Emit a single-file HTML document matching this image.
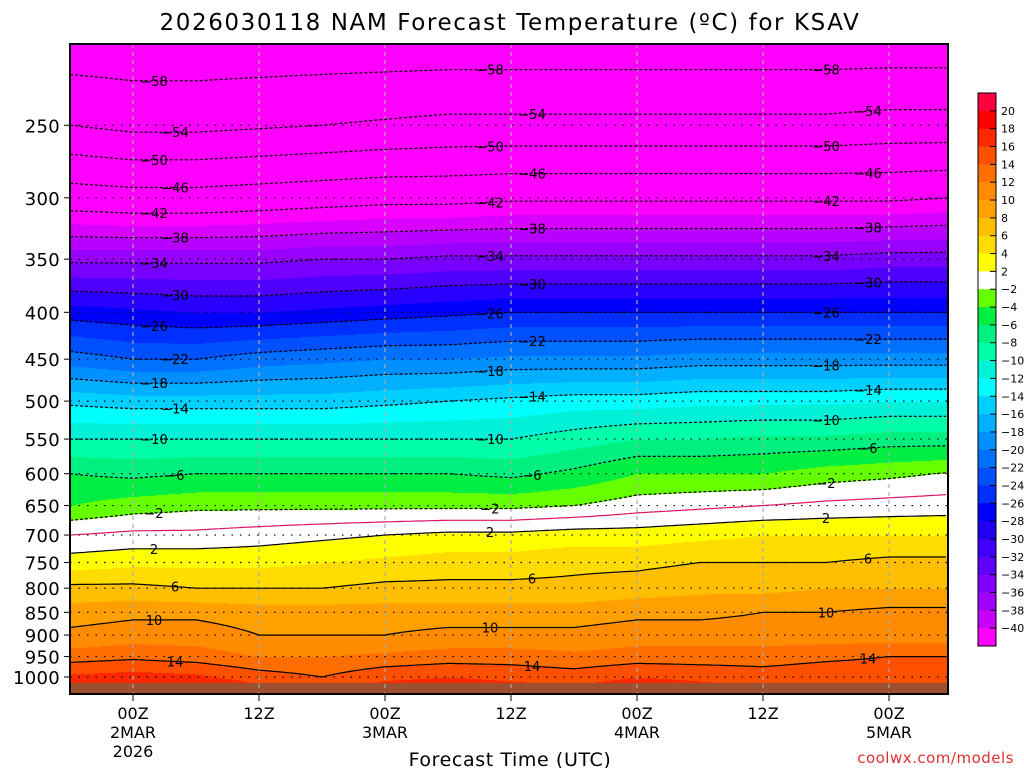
<!DOCTYPE html>
<html><head><meta charset="utf-8">
<style>
body{margin:0;background:#fff;width:1024px;height:768px;overflow:hidden;font-family:"DejaVu Sans","Liberation Sans",sans-serif}
#wrap{position:relative;width:1024px;height:768px}
canvas{position:absolute;left:70px;top:44px}
svg{position:absolute;left:0;top:0}
</style></head><body>
<div id="wrap">
<canvas id="cv" width="878" height="650"></canvas>
<svg id="sv" width="1024" height="768">
<text x="510" y="30" font-size="23" text-anchor="middle" fill="#000" letter-spacing="1.6">2026030118 NAM Forecast Temperature (ºC) for KSAV</text>
<text x="510" y="766" font-size="19" text-anchor="middle" fill="#000" letter-spacing="0.6">Forecast Time (UTC)</text>
<text x="1014" y="763" font-size="15" text-anchor="end" fill="#e03030" letter-spacing="0.5">coolwx.com/models</text>
</svg>
</div>
<script>
const hours=[0,6,12,18,24,30,36,42,48,54,60,66,72,78,84];
const levels=[1000,950,900,850,800,750,700,650,600,550,500,450,400,350,300,250,200];
const t1000=[16.5,17,16.5,15,14,15.5,16,15.5,15,16,15.5,15,15.5,15.5,15];
const t950=[13,13.5,13,12,12,12.5,13,13,12.5,13,13,13,13.5,14,14];
const t900=[10.5,11,11,10,10,10,10.5,10.5,10.5,11,11,11,11,11,11];
const t850=[9,9.5,9.5,9,9,9,9,9,9,9.5,9.5,10,10,10.5,10.5];
const t800=[6.5,6.5,6,6,6,6.5,6.5,6.5,6.5,7,7.5,7.5,8,8,8];
const t750=[3,3.5,3.5,3.5,4,4.5,5,5,5.5,5.5,6,6,6,6.5,6.5];
const t700=[0,0.5,0.5,1,1.5,2,2.5,2.5,3,3,3.5,4,4,4,4];
const t650=[-4,-3,-2.5,-2.5,-2.5,-2.5,-2.5,-2.5,-2,-1,-0.5,0,0.5,0.8,1];
const t600=[-6,-6.5,-6,-6,-6,-6,-6,-6.5,-5.5,-4,-4,-4,-3,-2.5,-1.8];
const t550=[-10,-10,-10,-10,-10,-10,-10,-10,-9,-8,-8,-7.5,-7.5,-7,-7];
const t500=[-14.5,-15,-15,-15,-15,-14.5,-14,-13.5,-13,-13,-12.5,-12.5,-12.5,-12,-12];
const t450=[-21,-22,-22,-21,-20.5,-20,-20,-19.5,-19.5,-19.5,-19,-19,-19,-19,-19];
const t400=[-27,-27.5,-28,-28,-27.5,-27,-26.5,-26,-26,-26,-26,-26,-26,-26,-26];
const t350=[-34.5,-34.5,-34.5,-34.5,-34,-34,-33.5,-33.5,-33.5,-33.5,-33.5,-33.5,-33.5,-33,-33];
const t300=[-44,-44.5,-44.5,-44,-43.5,-43,-43,-42.5,-42.5,-42.5,-42.5,-42.5,-42.5,-42.5,-42];
const t250=[-54,-55,-55,-54.5,-54,-53.5,-53,-53,-53,-53,-53,-53,-53,-52.5,-52.5];
const t200=[-61,-61,-61,-61,-61,-61,-61,-61,-61,-61,-61,-61,-61,-61,-61];
const temps=[t1000,t950,t900,t850,t800,t750,t700,t650,t600,t550,t500,t450,t400,t350,t300,t250,t200];
const contourValues=[-58,-54,-50,-46,-42,-38,-34,-30,-26,-22,-18,-14,-10,-6,-2,0,2,6,10,14];
const yTicks=[250,300,350,400,450,500,550,600,650,700,750,800,850,900,950,1000];
const xTickHours=[6,18,30,42,54,66,78];
const xTickLabels=[["00Z","2MAR","2026"],["12Z"],["00Z","3MAR"],["12Z"],["00Z","4MAR"],["12Z"],["00Z","5MAR"]];
const cbLabels=[20,18,16,14,12,10,8,6,4,2,-2,-4,-6,-8,-10,-12,-14,-16,-18,-20,-22,-24,-26,-28,-30,-32,-34,-36,-38,-40];
const colors=["#ff0040","#ff0000","#ff2800","#ff5000","#ff6e00","#ff8c00","#ffa000","#ffbe00","#ffdc00","#ffff00","#ffffff",
"#66ff00","#00ee44","#00f080","#00ffa8","#00f0d8","#00ffff","#00d0ff","#00b0ff","#0090ff","#0070ff","#0050ff","#0030ff","#0000ff","#2000f0","#4000ff","#6000ff","#8000ff","#a000ff","#c800ff","#ff00ff"];
const fieldColors=colors.slice(0,23).concat(["#0000ff","#2800ff","#5000ff","#7800ff","#9800ff","#b800ff","#d800ff","#f000ff","#ff00ff"]);

const X0=70,X1=948,Y0=44,Y1=694;
const xs=h=>X0+h*10.5;
const ys=p=>677-398*Math.log(1000/p);
const pOfY=y=>1000/Math.exp((677-y)/398);
function colIdx(T){
  if(T>=20)return 0;
  if(T>=2)return 9-Math.floor((T-2)/2);
  if(T>=-2)return 10;
  if(T<-40)return 31;
  return 11+Math.floor((-2-T)/2);
}
function tAtHour(h){
  let i=Math.min(hours.length-2,Math.max(0,Math.floor(h/6)));let f=(h-hours[i])/6;
  return temps.map(a=>a[i]*(1-f)+a[i+1]*f);
}
function tAt(prof,p){
  const lp=Math.log(p);
  for(let k=0;k<levels.length-1;k++){
    const a=Math.log(levels[k]),b=Math.log(levels[k+1]);
    if(lp<=a&&lp>=b)return prof[k]+(prof[k+1]-prof[k])*(lp-a)/(b-a);
  }
  if(lp>Math.log(levels[0]))return prof[0]+(prof[0]-prof[1])*(lp-Math.log(levels[0]))/(Math.log(levels[0])-Math.log(levels[1]));
  return prof[prof.length-1];
}
const ctx=document.getElementById('cv').getContext('2d');
for(let x=X0;x<X1;x+=2){
  const prof=tAtHour((x-X0)/10.5);
  for(let y=Y0;y<Y1;y++){
    if(y>=683){ctx.fillStyle="#9c5030";}
    else ctx.fillStyle=fieldColors[colIdx(tAt(prof,pOfY(y)))];
    ctx.fillRect(x-X0,y-Y0,2,1);
  }
}
const NS="http://www.w3.org/2000/svg";
const sv=document.getElementById('sv');
function mk(tag,attrs){const e=document.createElementNS(NS,tag);for(const k in attrs)e.setAttribute(k,attrs[k]);sv.appendChild(e);return e;}
yTicks.forEach(p=>{
  const l=mk('line',{x1:X0,x2:X1,y1:ys(p),y2:ys(p),stroke:'#000','stroke-width':1.2,'stroke-dasharray':'1.5 7'});
  
  
  const t=mk('text',{x:60,y:ys(p)+7,'font-size':18,'text-anchor':'end','letter-spacing':'0.3'});t.textContent=p;
  
  
  mk('line',{x1:X0-6,x2:X0,y1:ys(p),y2:ys(p),stroke:'#000'});
});
xTickHours.forEach((h,i)=>{
  const x=xs(h);
  const l=mk('line',{x1:x,x2:x,y1:Y0,y2:Y1,stroke:'#aaa','stroke-width':1.2,'stroke-dasharray':'4 4'});
  
  
  mk('line',{x1:x,x2:x,y1:Y1,y2:Y1+7,stroke:'#000'});
  xTickLabels[i].forEach((s,j)=>{
    const t=mk('text',{x:x,y:719+j*19,'font-size':16,'text-anchor':'middle'});t.textContent=s;
    
    
  });
});
const labelHours=[[8,40,72],[10,44,76]];
contourValues.forEach((v,ci)=>{
  let pts=[];
  for(let x=X0;x<=X1;x+=3){
    const prof=tAtHour((x-X0)/10.5);
    let yy=null;
    for(let k=levels.length-1;k>0;k--){
      const a=prof[k],b=prof[k-1];
      if((a-v)*(b-v)<=0&&a!==b){
        const f=(v-a)/(b-a);
        const lp=Math.log(levels[k])+f*(Math.log(levels[k-1])-Math.log(levels[k]));
        yy=ys(Math.exp(lp));break;
      }
    }
    if(yy!==null&&yy<683&&yy>Y0)pts.push([x,yy]);
  }
  if(pts.length<2)return;
  const attrs={points:pts.map(p=>p[0]+','+p[1].toFixed(1)).join(' '),fill:'none',stroke:v===0?'#e0106a':'#000','stroke-width':1.2};
  if(v<0)attrs['stroke-dasharray']='3 2';
  const pl=mk('polyline',attrs);
  
  
  if(v===0)return;
  labelHours[ci%2].forEach(h=>{
    const x=xs(h);let best=pts.reduce((a,b)=>Math.abs(b[0]-x)<Math.abs(a[0]-x)?b:a);
    if(Math.abs(best[0]-x)>5)return;
    const t=mk('text',{x:best[0],y:best[1]+5,'font-size':13,'text-anchor':'middle'});
    t.textContent=v<0?'\u2212'+(-v):v;
    
    
  });
});
const fr=mk('rect',{x:X0,y:Y0,width:X1-X0,height:Y1-Y0,fill:'none',stroke:'#000','stroke-width':2});


const cbTop=93,cbH=553/31;
colors.forEach((c,i)=>{
  const r=mk('rect',{x:978,y:cbTop+i*cbH,width:18,height:cbH+0.5,fill:c});
  
  
});
mk('rect',{x:978,y:cbTop,width:18,height:553,fill:'none',stroke:'#000'});
cbLabels.forEach((v,i)=>{
  const y=cbTop+(i+1)*cbH;
  mk('line',{x1:990,x2:996,y1:y,y2:y,stroke:'#000'});
  const t=mk('text',{x:1001,y:y+4,'font-size':11});t.textContent=v<0?'\u2212'+(-v):v;
  
  
});
</script>
</body></html>
